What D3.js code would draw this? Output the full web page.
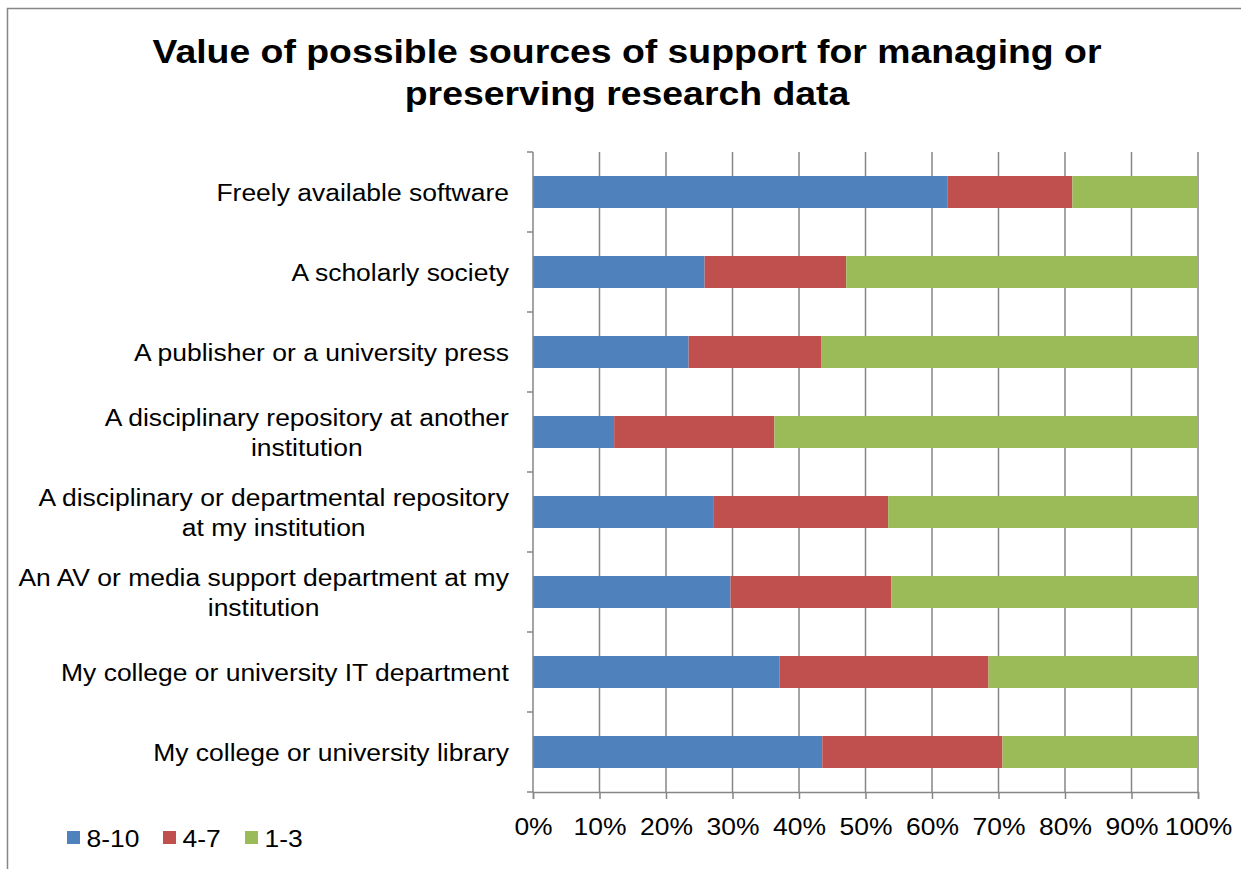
<!DOCTYPE html>
<html><head><meta charset="utf-8">
<script src="https://cdn.jsdelivr.net/npm/d3@7"></script>
<style>body{margin:0;background:#fff;} svg{display:block;font-family:Arial,"Liberation Sans",sans-serif;}</style>
</head><body><svg id="c" width="1241" height="869"></svg>
<script>
const categories = [
  ["Freely available software"],
  ["A scholarly society"],
  ["A publisher or a university press"],
  ["A disciplinary repository at another", "institution"],
  ["A disciplinary or departmental repository", "at my institution"],
  ["An AV or media support department at my", "institution"],
  ["My college or university IT department"],
  ["My college or university library"]
];
const seriesNames = ["8-10", "4-7", "1-3"];
const s810 = [62.3, 25.8, 23.4, 12.2, 27.2, 29.7, 37.1, 43.5];
const s47  = [18.8, 21.3, 20.0, 24.1, 26.2, 24.2, 31.4, 27.1];
const s13  = [18.9, 52.9, 56.6, 63.7, 46.6, 46.1, 31.5, 29.4];
const colors = ["#4F81BD", "#C0504D", "#9BBB59"];
const tickValues = [0,10,20,30,40,50,60,70,80,90,100];

const svg = d3.select("#c");
const L = 533, R = 1198, T = 152, B = 792;
const SX = 1.08; // horizontal stretch of the text in the reference

// outer frame
svg.append("rect").attr("x",7.5).attr("y",8.5).attr("width",1400).attr("height",1000)
  .attr("fill","none").attr("stroke","#868686").attr("stroke-width",1.5);

// title
const titleLines = ["Value of possible sources of support for managing or", "preserving research data"];
svg.append("g").selectAll("text").data(titleLines).join("text")
  .attr("transform",(d,i)=>`translate(627,${62.5+i*42.5}) scale(1.15,1)`)
  .attr("text-anchor","middle").attr("font-weight","bold")
  .attr("font-size",32.5).attr("fill","#000").text(d=>d);

const x = d3.scaleLinear().domain([0,100]).range([L,R]);
const y = d3.scaleBand().domain(d3.range(categories.length)).range([T,B]).paddingInner(0.6).paddingOuter(0.3);

// gridlines
svg.append("g").selectAll("line").data(tickValues.slice(1)).join("line")
  .attr("x1",d=>x(d)).attr("x2",d=>x(d)).attr("y1",T).attr("y2",B)
  .attr("stroke","#868686").attr("stroke-width",1.5);

// stacked data
const rows = categories.map((c,i)=>({i, "8-10":s810[i], "4-7":s47[i], "1-3":s13[i]}));
const stack = d3.stack().keys(seriesNames)(rows);
svg.append("g").selectAll("g").data(stack).join("g").attr("fill",(d,i)=>colors[i])
  .selectAll("rect").data(d=>d).join("rect")
  .attr("x",d=>x(d[0])).attr("width",d=>x(d[1])-x(d[0]))
  .attr("y",d=>y(d.data.i)).attr("height",y.bandwidth());

// y axis line and ticks
const band = (B-T)/categories.length;
svg.append("line").attr("x1",L).attr("x2",L).attr("y1",T).attr("y2",B).attr("stroke","#868686").attr("stroke-width",1.5);
svg.append("g").selectAll("line").data(d3.range(categories.length+1)).join("line")
  .attr("x1",L-6).attr("x2",L).attr("y1",d=>T+d*band).attr("y2",d=>T+d*band)
  .attr("stroke","#868686").attr("stroke-width",1.5);

// x axis
const xAxis = d3.axisBottom(x).tickValues(tickValues).tickFormat(d=>d+"%").tickSize(7).tickPadding(18.5);
const gx = svg.append("g").attr("transform",`translate(0,${B})`).call(xAxis);
gx.select(".domain").attr("stroke","#868686").attr("stroke-width",1.5);
gx.selectAll(".tick line").attr("stroke","#868686").attr("stroke-width",1.5);
gx.selectAll(".tick text").attr("font-size",24.5).attr("font-family","Arial, 'Liberation Sans', sans-serif")
  .attr("fill","#000").attr("transform",`scale(${SX},1)`);

// category labels
const lab = svg.append("g").selectAll("text").data(categories).join("text")
  .attr("font-size",24.5).attr("fill","#000").attr("text-anchor","middle");
lab.each(function(lines,i){
  const t = d3.select(this);
  const cy = y(i)+y.bandwidth()/2;
  t.selectAll("tspan").data(lines).join("tspan").text(d=>d);
  let w = 0;
  t.selectAll("tspan").each(function(){ w = Math.max(w, this.getComputedTextLength()); });
  const lh = 30;
  t.attr("transform",`translate(509,${cy}) scale(${SX},1)`);
  t.selectAll("tspan").attr("x",-w/2).attr("y",(d,k)=>(k-(lines.length-1)/2)*lh).attr("dy","0.35em");
});

// legend
const legX = [67,163,245];
const leg = svg.append("g").selectAll("g").data(seriesNames).join("g")
  .attr("transform",(d,i)=>`translate(${legX[i]},831)`);
leg.append("rect").attr("width",13).attr("height",13).attr("fill",(d,i)=>colors[i]);
leg.append("text").attr("transform",`translate(19.5,16) scale(${SX},1)`).attr("font-size",24.5).attr("fill","#000").text(d=>d);
</script></body></html>
